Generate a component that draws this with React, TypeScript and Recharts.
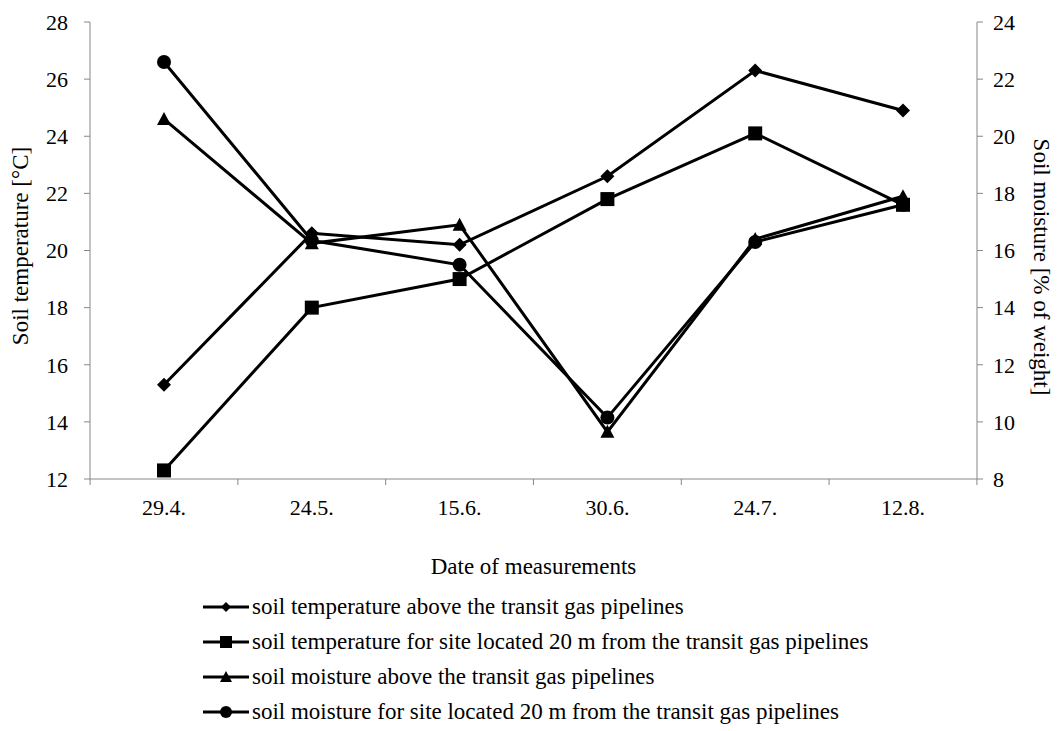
import { ComposedChart, Legend, Line, XAxis, YAxis } from "recharts";

const dates = ["29.4.", "24.5.", "15.6.", "30.6.", "24.7.", "12.8."];
const tempAbove = [15.3, 20.6, 20.2, 22.6, 26.3, 24.9];
const temp20m = [12.3, 18.0, 19.0, 21.8, 24.1, 21.6];
const moistAbove = [20.6, 16.25, 16.9, 9.65, 16.4, 17.9];
const moist20m = [22.6, 16.35, 15.5, 10.15, 16.3, 17.6];

const tempTicks = [12, 14, 16, 18, 20, 22, 24, 26, 28];
const moistTicks = [8, 10, 12, 14, 16, 18, 20, 22, 24];

const font = "'Liberation Serif', 'DejaVu Serif', serif";
const axisGray = "#878787";

type Shape = "diamond" | "square" | "triangle" | "circle";

const series: { key: string; name: string; axis: string; shape: Shape }[] = [
  { key: "tempAbove", name: "soil temperature above the transit gas pipelines", axis: "temp", shape: "diamond" },
  { key: "temp20m", name: "soil temperature for site located 20 m from the transit gas pipelines", axis: "temp", shape: "square" },
  { key: "moistAbove", name: "soil moisture above the transit gas pipelines", axis: "moist", shape: "triangle" },
  { key: "moist20m", name: "soil moisture for site located 20 m from the transit gas pipelines", axis: "moist", shape: "circle" }
];

const data = dates.map((date, i) => ({
  date,
  tempAbove: tempAbove[i],
  temp20m: temp20m[i],
  moistAbove: moistAbove[i],
  moist20m: moist20m[i]
}));

function Marker({ shape, cx, cy, r = 7 }: { shape: Shape; cx: number; cy: number; r?: number }) {
  if (cx == null || cy == null) return null;
  if (shape === "diamond") {
    return <polygon fill="#000" points={`${cx},${cy - r} ${cx + r},${cy} ${cx},${cy + r} ${cx - r},${cy}`} />;
  }
  if (shape === "square") {
    return <rect fill="#000" height={r * 2} width={r * 2} x={cx - r} y={cy - r} />;
  }
  if (shape === "triangle") {
    return <polygon fill="#000" points={`${cx},${cy - r} ${cx + r},${cy + r * 0.85} ${cx - r},${cy + r * 0.85}`} />;
  }
  return <circle cx={cx} cy={cy} fill="#000" r={r} />;
}

function dotFor(shape: Shape) {
  return (props: any) => <Marker cx={props.cx} cy={props.cy} key={`${shape}-${props.index}`} shape={shape} />;
}

function DateTick(props: any) {
  const { x, y, payload, index, visibleTicksCount, width } = props;
  const half = width / visibleTicksCount / 2;
  const axisY = y - 20;
  return (
    <g>
      <line stroke={axisGray} x1={x - half} x2={x - half} y1={axisY} y2={axisY + 6} />
      {index === visibleTicksCount - 1 ? <line stroke={axisGray} x1={x + half} x2={x + half} y1={axisY} y2={axisY + 6} /> : null}
      <text dy="0.71em" fill="#000" fontFamily={font} fontSize={22} textAnchor="middle" x={x} y={y}>
        {payload.value}
      </text>
    </g>
  );
}

function LegendRows() {
  return (
    <div style={{ fontFamily: font, fontSize: 23, color: "#000" }}>
      {series.map((s) => (
        <div key={s.key} style={{ display: "flex", alignItems: "center", height: 35, whiteSpace: "nowrap" }}>
          <svg height={20} width={46}>
            <line stroke="#000" strokeWidth={3} x1={0} x2={46} y1={10} y2={10} />
            <Marker cx={23} cy={10} r={s.shape === "diamond" ? 5 : 6} shape={s.shape} />
          </svg>
          <span style={{ marginLeft: 3 }}>{s.name}</span>
        </div>
      ))}
    </div>
  );
}

export default function App() {
  return (
    <div style={{ position: "absolute", left: 0, top: 0, width: 1058, height: 731, background: "#fff" }}>
      <ComposedChart data={data} height={731} margin={{ top: 22, right: 0, bottom: 0, left: 0 }} width={1058}>
        <XAxis
          axisLine={{ stroke: axisGray }}
          dataKey="date"
          height={252}
          interval={0}
          label={({ viewBox }: any) => (
            <text fill="#000" fontFamily={font} fontSize={23} textAnchor="middle" x={viewBox.x + viewBox.width / 2} y={viewBox.y + 95}>
              Date of measurements
            </text>
          )}
          padding={{ left: 74, right: 74 }}
          tick={<DateTick />}
          tickLine={false}
          tickMargin={14}
          tickSize={6}
        />
        <YAxis
          axisLine={{ stroke: axisGray }}
          domain={[12, 28]}
          label={({ viewBox }: any) => (
            <text fill="#000" fontFamily={font} fontSize={23} textAnchor="middle" transform={`rotate(-90 ${viewBox.x + 20} 246)`} x={viewBox.x + 20} y={246} dy="0.35em">
              Soil temperature [°C]
            </text>
          )}
          tick={{ fill: "#000", fontFamily: font, fontSize: 22, dx: -14 }}
          tickLine={{ stroke: axisGray }}
          tickSize={6}
          ticks={tempTicks}
          type="number"
          width={90}
          yAxisId="temp"
        />
        <YAxis
          axisLine={{ stroke: axisGray }}
          domain={[8, 24]}
          label={({ viewBox }: any) => (
            <text fill="#000" fontFamily={font} fontSize={23} textAnchor="middle" transform={`rotate(90 ${viewBox.x + 65} 267)`} x={viewBox.x + 65} y={267} dy="0.35em">
              Soil moisture [% of weight]
            </text>
          )}
          orientation="right"
          tick={{ fill: "#000", fontFamily: font, fontSize: 22, dx: 8 }}
          tickLine={{ stroke: axisGray }}
          tickSize={6}
          ticks={moistTicks}
          type="number"
          width={81}
          yAxisId="moist"
        />
        <Legend align="center" content={<LegendRows />} layout="vertical" verticalAlign="middle" wrapperStyle={{ top: 589, left: 203, width: "auto", height: "auto" }} />
        {series.map((s) => (
          <Line
            dataKey={s.key}
            dot={dotFor(s.shape)}
            isAnimationActive={false}
            key={s.key}
            name={s.name}
            stroke="#000"
            strokeWidth={3}
            type="linear"
            yAxisId={s.axis}
          />
        ))}
      </ComposedChart>
    </div>
  );
}
